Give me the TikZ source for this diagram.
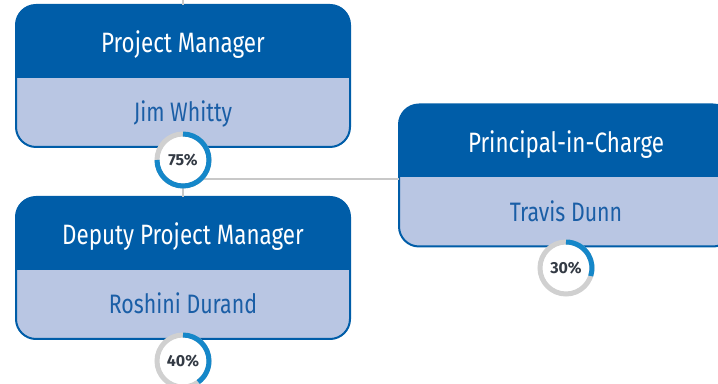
\documentclass[tikz,border=0pt]{standalone}
\usepackage{fontspec}
\setmainfont{Fira Sans}
\newfontfamily\narrowfont[FakeStretch=0.8]{Fira Sans}
\usetikzlibrary{positioning}

\definecolor{headblue}{HTML}{005DA8}
\definecolor{bodyblue}{HTML}{B9C6E3}
\definecolor{nameblue}{HTML}{1A5EA6}
\definecolor{ringblue}{HTML}{1587C9}
\definecolor{ringgray}{HTML}{D0D0D0}
\definecolor{linkgray}{HTML}{C8C8C8}
\definecolor{pcttext}{HTML}{333A44}

\begin{document}
\begin{tikzpicture}[x=0.75pt,y=-0.75pt]
        \tikzset{
            orgbox/.style={draw=headblue, line width=1.5pt, rounded corners=15pt, fill=bodyblue,
                minimum width=250.5pt, minimum height=106.5pt, inner sep=0pt, outer sep=0pt,
                path picture={\fill[headblue, sharp corners] (path picture bounding box.north west)
                    rectangle ([yshift=-54.75pt]path picture bounding box.north east);}},
            roletext/.style={anchor=base, text=white, font=\narrowfont\fontsize{21}{24}\selectfont},
            nametext/.style={anchor=base, text=nameblue, font=\narrowfont\fontsize{20}{23}\selectfont},
            link/.style={draw=linkgray, line width=1.8pt},
            ring/.style={circle, draw=ringgray, fill=white, line width=3.75pt, minimum size=39pt,
                inner sep=0pt, outer sep=0pt, text=pcttext, font=\bfseries\fontsize{12}{14}\selectfont},
            done/.style={draw=ringblue, line width=3.75pt}
        }
        \clip (0,0) rectangle (718,384);

        % boxes
        \node[orgbox] (pm) at (183,76) {};
        \node[orgbox] (dpm) [below=37.5pt of pm] {};
        \node[orgbox] (pic) at (566,175.5) {};

        % roles and names
        \node[roletext] (pm-role) at ([yshift=-36pt]pm.north) {Project Manager};
        \node[nametext] (pm-name) at ([yshift=-87.75pt]pm.north) {Jim Whitty};
        \node[roletext] (dpm-role) at ([yshift=-36pt]dpm.north) {Deputy Project Manager};
        \node[nametext] (dpm-name) at ([yshift=-87.75pt]dpm.north) {Roshini Durand};
        \node[roletext] (pic-role) at ([yshift=-36pt]pic.north) {Principal-in-Charge};
        \node[nametext] (pic-name) at ([yshift=-87.75pt]pic.north) {Travis Dunn};

        % reporting lines
        \coordinate (up) at (183,0);
        \draw[link] (up) -- (pm.north);
        \draw[link] (pm.south) -- (dpm.north);
        \draw[link] ([yshift=-2.5pt]pic.west) -- ([yshift=-2.5pt]pic.west -| pm.south);

        % time split rings
        \node[ring] (pm-pct) at (183,160) {75\%};
        \draw[done] (pm-pct.north) arc[start angle=90, end angle=-180, radius=19.5pt];
        \node[ring] (dpm-pct) at (183,361) {40\%};
        \draw[done] (dpm-pct.north) arc[start angle=90, end angle=-54, radius=19.5pt];
        \node[ring] (pic-pct) at (566,268) {30\%};
        \draw[done] (pic-pct.north) arc[start angle=90, end angle=-18, radius=19.5pt];
\end{tikzpicture}
\end{document}
